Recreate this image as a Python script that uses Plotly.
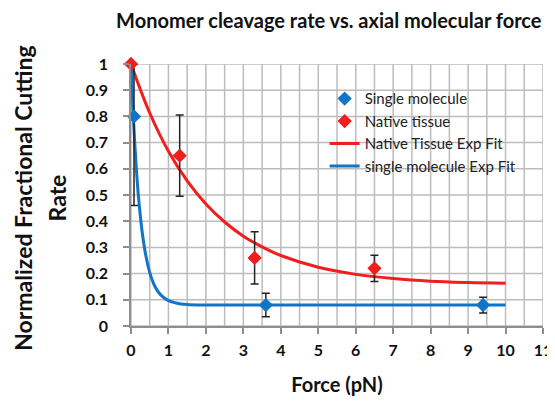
import plotly.graph_objects as go

# ---- data ----
single_x = [0.08, 3.6, 9.4]
single_y = [0.80, 0.08, 0.08]
single_err_plus = [0.20, 0.045, 0.03]
single_err_minus = [0.34, 0.045, 0.03]

native_x = [0.0, 1.3, 3.3, 6.5]
native_y = [1.00, 0.65, 0.26, 0.22]
native_err = [0.0, 0.155, 0.10, 0.05]

native_fit_x = [0, 0.5, 1, 1.5, 2, 2.5, 3, 3.5, 4, 5, 6, 7, 8, 9, 10]
native_fit_y = [1.0, 0.813, 0.667, 0.554, 0.466, 0.397, 0.343, 0.302, 0.269,
                0.224, 0.197, 0.181, 0.171, 0.166, 0.163]

single_fit_x = [0, 0.05, 0.1, 0.15, 0.2, 0.3, 0.4, 0.5, 0.6, 0.7, 0.8, 1.0,
                1.2, 1.5, 2, 3, 10]
single_fit_y = [1.0, 0.833, 0.697, 0.585, 0.493, 0.357, 0.266, 0.204, 0.163,
                0.136, 0.118, 0.097, 0.088, 0.082, 0.080, 0.080, 0.080]

x_ticks = list(range(0, 12))
x_grid = [i / 2 for i in range(0, 23)]
y_ticks = [0, 0.1, 0.2, 0.3, 0.4, 0.5, 0.6, 0.7, 0.8, 0.9, 1.0]
y_tick_text = ["0", "0.1", "0.2", "0.3", "0.4", "0.5", "0.6", "0.7", "0.8", "0.9", "1"]

RED = "#f01e1e"
BLUE = "#0f75c8"
FONT = "Lato"
GRID = "#bcbcbc"

fig = go.Figure()

# grid drawn as background line traces, from the tick/grid positions
vx, vy = [], []
for gx in x_grid:
    vx += [gx, gx, None]
    vy += [0, 1, None]
hx, hy = [], []
for gy in y_ticks:
    hx += [0, 11, None]
    hy += [gy, gy, None]
fig.add_trace(go.Scatter(x=vx, y=vy, mode="lines", line=dict(color=GRID, width=1.5),
                         showlegend=False, hoverinfo="skip", connectgaps=False))
fig.add_trace(go.Scatter(x=hx, y=hy, mode="lines", line=dict(color=GRID, width=1.5),
                         showlegend=False, hoverinfo="skip", connectgaps=False))

fig.add_trace(go.Scatter(
    x=native_fit_x, y=native_fit_y, mode="lines", name="Native Tissue Exp Fit",
    line=dict(color=RED, width=3, shape="spline"), legendrank=3, cliponaxis=False))
fig.add_trace(go.Scatter(
    x=single_fit_x, y=single_fit_y, mode="lines", name="single molecule Exp Fit",
    line=dict(color=BLUE, width=3, shape="spline"), legendrank=4, cliponaxis=False))
fig.add_trace(go.Scatter(
    x=single_x, y=single_y, mode="markers", name="Single molecule",
    marker=dict(symbol="diamond", size=11, color=BLUE),
    error_y=dict(type="data", array=single_err_plus, arrayminus=single_err_minus,
                 color="#222222", thickness=1.5, width=4),
    legendrank=1, cliponaxis=False))
fig.add_trace(go.Scatter(
    x=native_x, y=native_y, mode="markers", name="Native tissue",
    marker=dict(symbol="diamond", size=11, color=RED),
    error_y=dict(type="data", array=native_err, color="#222222", thickness=1.5, width=4),
    legendrank=2, cliponaxis=False))

fig.update_layout(
    width=555, height=401,
    margin=dict(l=123, r=11, t=56, b=83),
    paper_bgcolor="white", plot_bgcolor="white",
    font=dict(family=FONT, color="#111111"),
    title=dict(text="<b>Monomer cleavage rate vs. axial molecular force</b>",
               x=0.578, xanchor="center", y=0.968, yanchor="middle",
               font=dict(size=20, family=FONT, color="#111111")),
    showlegend=True,
    legend=dict(x=0.47, y=0.93, xanchor="left", yanchor="top",
                bgcolor="rgba(0,0,0,0)", font=dict(size=15, family=FONT, color="#222222"),
                tracegroupgap=0, itemwidth=30),
    xaxis=dict(range=[0, 11], tickmode="array", tickvals=x_ticks,
               showgrid=False,
               ticks="outside", ticklen=6, tickcolor="#8e8e8e", tickwidth=1.5,
               showline=True, linecolor="#8e8e8e", linewidth=1.5,
               zeroline=False, ticklabelstandoff=3,
               tickfont=dict(size=16, family=FONT, color="#111111", weight="bold"),
               title=dict(text="<b>Force (pN)</b>", font=dict(size=20, family=FONT),
                          standoff=20)),
    yaxis=dict(range=[0, 1], tickmode="array", tickvals=y_ticks, ticktext=y_tick_text,
               showgrid=False,
               ticks="outside", ticklen=6, tickcolor="#8e8e8e", tickwidth=1.5,
               showline=True, linecolor="#8e8e8e", linewidth=1.5,
               zeroline=False, ticklabelstandoff=12,
               tickfont=dict(size=16, family=FONT, color="#111111", weight="bold")),
)

fig.add_annotation(text="<b>Normalized Fractional Cutting</b>", textangle=-90,
                   xref="paper", yref="paper", x=-0.264, y=0.49,
                   xanchor="center", yanchor="middle", showarrow=False,
                   font=dict(size=23, family=FONT, color="#111111"))
fig.add_annotation(text="<b>Rate</b>", textangle=-90,
                   xref="paper", yref="paper", x=-0.18, y=0.49,
                   xanchor="center", yanchor="middle", showarrow=False,
                   font=dict(size=23, family=FONT, color="#111111"))

fig.write_html("out.html")
